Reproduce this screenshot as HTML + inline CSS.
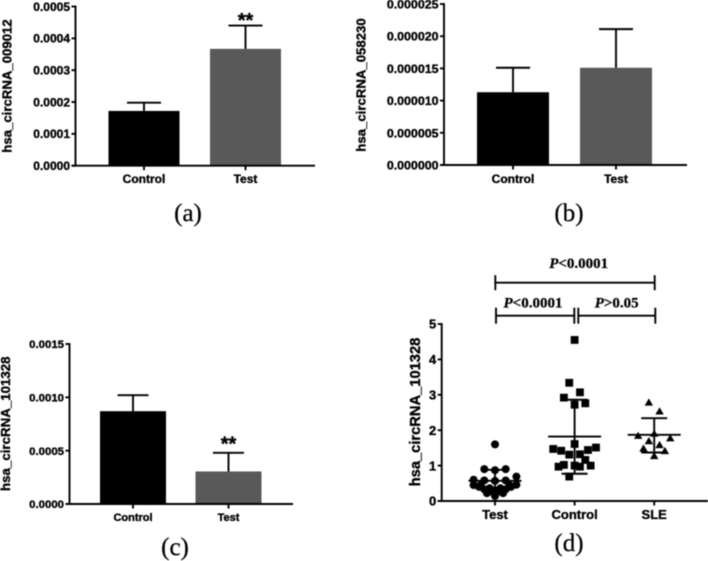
<!DOCTYPE html>
<html lang="en">
<head>
<meta charset="utf-8">
<title>hsa_circRNA expression charts</title>
<style>
html,body{margin:0;padding:0;background:#fff;width:708px;height:561px;overflow:hidden}
svg{display:block;filter:blur(0.45px)}
text{font-family:"Liberation Sans",sans-serif;font-weight:bold;fill:#000;stroke:#000;stroke-width:0.35px}
.serif{font-family:"Liberation Serif",serif;stroke-width:0.25px}
</style>
</head>
<body>
<svg id="figure" width="708" height="561" viewBox="0 0 708 561" xmlns="http://www.w3.org/2000/svg"></svg>
<script>
// Panel (a)
const aCategories = ["Control", "Test"];
const aMeans = [0.000172, 0.000367];
const aErrorTops = [0.000198, 0.00044];
const aTicks = ["0.0000", "0.0001", "0.0002", "0.0003", "0.0004", "0.0005"];
const aMarks = ["", "**"];
// Panel (b)
const bCategories = ["Control", "Test"];
const bMeans = [0.0000113, 0.0000151];
const bErrorTops = [0.0000151, 0.0000211];
const bTicks = ["0.000000", "0.000005", "0.000010", "0.000015", "0.000020", "0.000025"];
const bMarks = ["", ""];
// Panel (c)
const cCategories = ["Control", "Test"];
const cMeans = [0.00087, 0.000305];
const cErrorTops = [0.00102, 0.00048];
const cTicks = ["0.0000", "0.0005", "0.0010", "0.0015"];
const cMarks = ["", "**"];
// Panel (d)
const dCategories = ["Test", "Control", "SLE"];
const dTicks = ["0", "1", "2", "3", "4", "5"];
const dTestValues = [1.6, 0.9, 0.87, 0.9, 0.69, 0.6, 0.58, 0.57, 0.58, 0.45, 0.46, 0.45, 0.45, 0.4, 0.33, 0.4, 0.33, 0.36, 0.36, 0.27, 0.27, 0.14, 0.22, 0.22, 0.3];
const dTestSlots = [0, -2, 0, 2, 4, -4, -2, 0, 2, -4, 4, -2.7, 2.7, -3, -2, 3, 2, -1, 1, -1, 1, 0, -1.5, 1.5, 0];
const dControlValues = [4.55, 3.34, 3.07, 2.92, 2.72, 2.76, 1.61, 1.47, 1.42, 1.51, 1.44, 1.31, 1.32, 1.16, 1.02, 0.97, 1.0, 0.97, 1.0, 0.69];
const dControlSlots = [0, -1, 1, -2, 0, 2, 0, -4, -2.5, 4, 2.5, -1, 1, 2, -2, -3, 0, 1, 3, -1];
const dSleValues = [2.79, 2.54, 1.85, 1.91, 1.78, 1.7, 1.59, 1.49, 1.42, 1.28];
const dSleSlots = [-1, 1, -3, 0, 3, -1, 1, -2, 2, 0];
const dMeans = [0.57, 1.82, 1.87];
const dErrorTops = [0.88, 2.86, 2.34];
const dErrorBottoms = [0.27, 0.77, 1.37];

const NS = "http://www.w3.org/2000/svg";
const root = document.getElementById("figure");

function node(parent, tag, attrs, text) {
  const el = document.createElementNS(NS, tag);
  for (const k in attrs) el.setAttribute(k, attrs[k]);
  if (text !== undefined) el.textContent = text;
  parent.appendChild(el);
  return el;
}
function line(parent, x1, y1, x2, y2, name, w) {
  const el = node(parent, "line", {x1: x1, y1: y1, x2: x2, y2: y2, stroke: "#000", "stroke-width": w || 1.9});
  
  
  return el;
}
function label(parent, x, y, str, size, anchor, name, extra) {
  const el = node(parent, "text", Object.assign({x: x, y: y, "font-size": size, "text-anchor": anchor}, extra || {}), str);
  
  
  return el;
}
function group(name) {
  const g = node(root, "g", {});
  
  
  return g;
}
function yScale(p, v) {
  return p.y0 - (v / p.yMax) * (p.y0 - p.yTop);
}
function drawYAxis(g, p, ticks) {
  line(g, p.axisX, p.yTop - 0.9, p.axisX, p.y0 + 0.9, "y-axis");
  ticks.forEach(function (t, i) {
    const y = p.y0 - (i / (ticks.length - 1)) * (p.y0 - p.yTop);
    line(g, p.axisX - 4, y, p.axisX, y, "y-tick");
    label(g, p.axisX - 5.5, y + p.tickSize * 0.36, t, p.tickSize, "end", "y-tick-label");
  });
}
function drawTitle(g, p, str) {
  label(g, p.titleX, p.titleY, str, p.titleSize, "middle", "y-axis-title",
    {transform: "rotate(-90 " + p.titleX + " " + p.titleY + ")"});
}
function drawBarPanel(name, p, categories, means, tops, ticks, marks, title, caption) {
  const g = group(name);
  const y = function (v) { return yScale(p, v); };
  categories.forEach(function (c, i) {
    const cx = p.firstX + i * p.step;
    const bar = node(g, "rect", {x: cx - p.barW / 2, y: y(means[i]), width: p.barW, height: p.y0 - y(means[i]), fill: i === 0 ? "#000" : "#595959"});
    
    
    line(g, cx, y(means[i]), cx, y(tops[i]), "error-bar");
    line(g, cx - p.capW, y(tops[i]), cx + p.capW, y(tops[i]), "error-cap");
    line(g, cx, p.y0, cx, p.y0 + 4.5, "x-tick");
    label(g, cx, p.labelY, c, p.labelSize, "middle", "x-tick-label");
    if (marks[i]) label(g, cx, y(tops[i]) + p.markShift, marks[i], 20, "middle", "significance-mark");
  });
  line(g, p.axisX - 4, p.y0, p.xEnd, p.y0, "x-axis");
  drawYAxis(g, p, ticks);
  drawTitle(g, p, title);
  label(g, p.capX, p.capY, caption, 25, "middle", "panel-caption", {"class": "serif", style: "font-weight:normal"});
}

drawBarPanel("panel-a", {axisX: 75.5, yTop: 6.5, y0: 165.7, yMax: 0.0005, firstX: 144, step: 101.5, barW: 71, capW: 17, xEnd: 315, labelY: 183, labelSize: 12, tickSize: 12, markShift: 1.5, titleX: 11.5, titleY: 86, titleSize: 13.2, capX: 188, capY: 221},
  aCategories, aMeans, aErrorTops, aTicks, aMarks, "hsa_circRNA_009012", "(a)");
drawBarPanel("panel-b", {axisX: 444, yTop: 4, y0: 165, yMax: 0.000025, firstX: 513, step: 103, barW: 72, capW: 17, xEnd: 687, labelY: 183, labelSize: 12, tickSize: 12.4, markShift: 1.5, titleX: 365.7, titleY: 85, titleSize: 13.2, capX: 569, capY: 221},
  bCategories, bMeans, bErrorTops, bTicks, bMarks, "hsa_circRNA_058230", "(b)");
drawBarPanel("panel-c", {axisX: 69.5, yTop: 344, y0: 504, yMax: 0.0015, firstX: 133, step: 95.5, barW: 66, capW: 15.5, xEnd: 293, labelY: 521, labelSize: 11, tickSize: 11.4, markShift: -2.5, titleX: 10, titleY: 423.7, titleSize: 13.3, capX: 175, capY: 555},
  cCategories, cMeans, cErrorTops, cTicks, cMarks, "hsa_circRNA_101328", "(c)");

// Panel (d): scatter
const d = {axisX: 441.7, yTop: 324, y0: 501, yMax: 5, firstX: 495, step: 79.6, slot: 5.35, xEnd: 708, titleX: 420, titleY: 412, titleSize: 14.7, tickSize: 13};
const dg = group("panel-d");
const dy = function (v) { return yScale(d, v); };
const dx = function (i, s) { return d.firstX + i * d.step + (s || 0) * d.slot; };

function drawDots(values, slots, index, shape) {
  values.forEach(function (v, i) {
    const x = dx(index, slots[i]), y = dy(v);
    let el;
    if (shape === "circle") el = node(dg, "circle", {cx: x, cy: y, r: 4, fill: "#000"});
    else if (shape === "square") el = node(dg, "rect", {x: x - 3.9, y: y - 3.9, width: 7.8, height: 7.8, fill: "#000"});
    else el = node(dg, "polygon", {points: (x - 4.2) + "," + (y + 3.4) + " " + (x + 4.2) + "," + (y + 3.4) + " " + x + "," + (y - 3.8), fill: "#000"});
    
    
  });
}
drawDots(dTestValues, dTestSlots, 0, "circle");
drawDots(dControlValues, dControlSlots, 1, "square");
drawDots(dSleValues, dSleSlots, 2, "triangle");

dCategories.forEach(function (c, i) {
  const cx = dx(i);
  line(dg, cx - 26.5, dy(dMeans[i]), cx + 26.5, dy(dMeans[i]), "mean-line");
  line(dg, cx, dy(dErrorTops[i]), cx, dy(dErrorBottoms[i]), "error-bar");
  line(dg, cx - 13, dy(dErrorTops[i]), cx + 13, dy(dErrorTops[i]), "error-cap");
  line(dg, cx - 13, dy(dErrorBottoms[i]), cx + 13, dy(dErrorBottoms[i]), "error-cap");
  line(dg, cx, d.y0, cx, d.y0 + 4.5, "x-tick");
  label(dg, cx, 519, c, 13, "middle", "x-tick-label");
});
line(dg, d.axisX - 4, d.y0, d.xEnd, d.y0, "x-axis");
drawYAxis(dg, d, dTicks);
drawTitle(dg, d, "hsa_circRNA_101328");
label(dg, 569, 551, "(d)", 25, "middle", "panel-caption", {"class": "serif", style: "font-weight:normal"});

function bracket(x1, x2, y, half, text, tx, ty, name) {
  const b = node(dg, "g", {});
  
  
  line(b, x1, y, x2, y, "bracket-line");
  line(b, x1, y - half, x1, y + half, "bracket-end");
  line(b, x2, y - half, x2, y + half, "bracket-end");
  const t = label(b, tx, ty, "", 15, "middle", "p-value-label", {"class": "serif"});
  const i = node(t, "tspan", {"font-style": "italic"}, "P");
  t.appendChild(i);
  node(t, "tspan", {}, text);
}
bracket(495.3, 654.7, 282.7, 7.5, "<0.0001", 578.7, 268, "bracket-test-sle");
bracket(496, 574.3, 315.7, 8, "<0.0001", 533, 307.5, "bracket-test-control");
bracket(578.3, 655.3, 315.7, 8, ">0.05", 616.7, 307.5, "bracket-control-sle");
</script>
</body>
</html>
